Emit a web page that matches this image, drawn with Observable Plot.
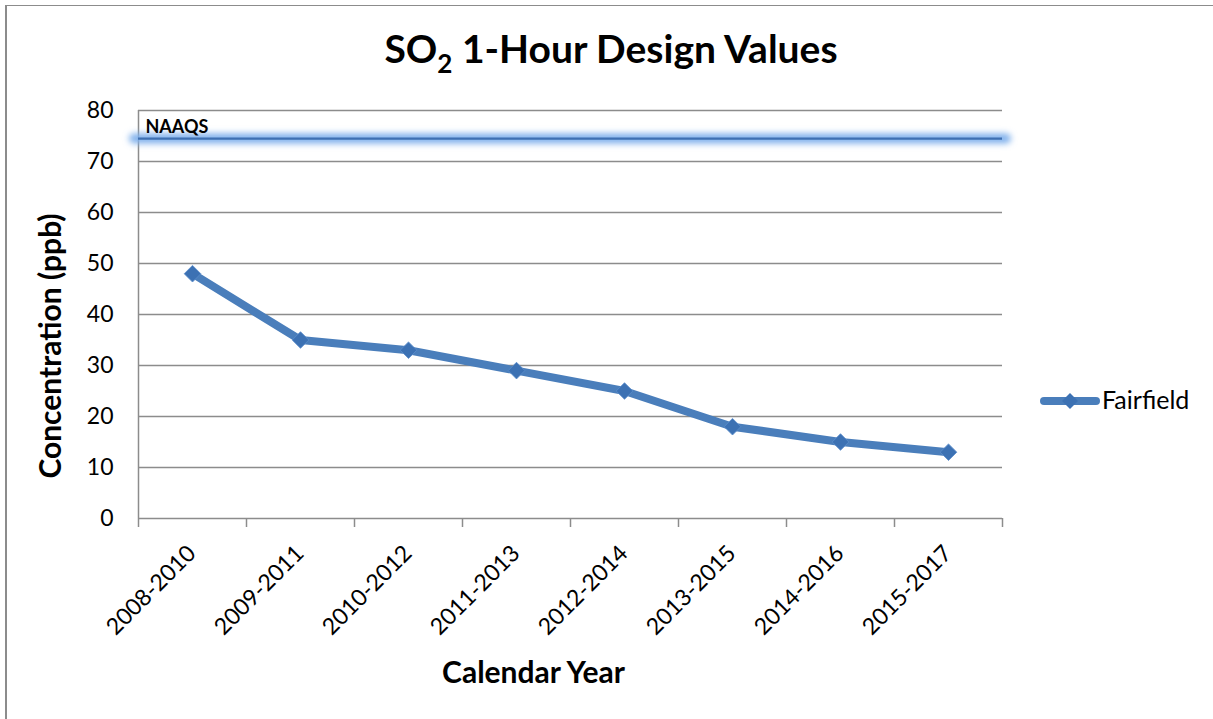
<!DOCTYPE html>
<html><head><meta charset="utf-8">
<script src="https://cdn.jsdelivr.net/npm/d3@7"></script>
<script src="https://cdn.jsdelivr.net/npm/@observablehq/plot@0.6"></script>
<style>
body{margin:0;background:#fff;font-family:Lato,"Open Sans",sans-serif;}
#wrap{position:relative;width:1213px;height:719px;overflow:hidden;background:#fff;}
#frame{position:absolute;left:5px;top:5px;width:1300px;height:800px;border-left:2px solid #8c8c8c;border-top:1px solid #8c8c8c;}
#title{position:absolute;left:0;width:1222px;top:25px;text-align:center;font-weight:bold;font-size:39px;color:#000;line-height:1.2;white-space:nowrap;}
#title sub{font-size:26px;line-height:0;vertical-align:-10px;}
#chart{position:absolute;left:0;top:0;}
#ytitle{position:absolute;left:49px;top:346px;transform:translate(-50%,-50%) rotate(-90deg);font-weight:bold;font-size:30px;line-height:1.2;white-space:nowrap;color:#000;}
#legend{position:absolute;left:1030px;top:380px;}
</style></head>
<body>
<div id="wrap">
  <div id="frame"></div>
  <div id="chart"></div>
  <div id="title">SO<sub>2</sub> 1-Hour Design Values</div>
  <div id="ytitle"></div>
  <div id="legend"></div>
</div>
<script>
const periods = ["2008-2010","2009-2011","2010-2012","2011-2013","2012-2014","2013-2015","2014-2016","2015-2017"];
const fairfield = [48, 35, 33, 29, 25, 18, 15, 13];
const yTicks = [0, 10, 20, 30, 40, 50, 60, 70, 80];
const naaqsValue = 74.5;
const naaqsLabel = "NAAQS";
const seriesName = "Fairfield";
const xTitle = "Calendar Year";
const yTitle = "Concentration (ppb)";

const lineColor = "#4a7ebb";
const markColor = "#3c71b3";
const gridColor = "#8c8c8c";

const data = periods.map((p, i) => ({period: p, idx: i + 0.5, value: fairfield[i]}));
const boundaries = d3.range(periods.length + 1);

const chart = Plot.plot({
  width: 1213, height: 719,
  marginLeft: 138, marginRight: 211, marginTop: 110, marginBottom: 201,
  style: {fontFamily: "Lato, 'Open Sans', sans-serif", background: "transparent", color: "#000"},
  x: {type: "linear", domain: [0, periods.length], axis: null},
  y: {domain: [0, 80], axis: null},
  marks: [
    Plot.ruleY(yTicks, {stroke: gridColor, strokeWidth: 1.5}),
    Plot.ruleX([0], {stroke: gridColor, strokeWidth: 1.5}),
    Plot.axisX({ticks: boundaries, tickSize: 9, tickFormat: () => "", stroke: gridColor, strokeWidth: 1.5, label: null}),
    Plot.axisY({ticks: yTicks, tickSize: 0, tickPadding: 25, fontSize: 23, label: null, tickFormat: d => String(d)}),
    // NAAQS line: blurred glow + core
    Plot.ruleY([naaqsValue], {stroke: "#7fb0ec", strokeWidth: 10, insetLeft: -4, insetRight: -4, strokeLinecap: "round"}),
    Plot.ruleY([naaqsValue], {stroke: "#3f70b2", strokeWidth: 2.2}),
    Plot.text([naaqsLabel], {x: 0, y: naaqsValue, text: d => d, dx: 7, dy: -11, textAnchor: "start", fontWeight: "bold", fontSize: 18, fill: "#000"}),
    Plot.line(data, {x: "idx", y: "value", stroke: lineColor, strokeWidth: 8, strokeLinejoin: "round"}),
    Plot.dot(data, {x: "idx", y: "value", symbol: "diamond2", r: 7.5, fill: markColor, stroke: "#5a8dcc", strokeWidth: 0.8}),
    Plot.text(data, {x: "idx", y: 0, text: "period", rotate: -45, textAnchor: "end", dx: -0.5, dy: 31, fontSize: 23, fill: "#000"}),
    Plot.text([xTitle], {frameAnchor: "bottom", text: d => d, dx: -37, dy: 164, fontSize: 30, fontWeight: "bold", fill: "#000"})
  ]
});

// soft blur for the NAAQS glow rule
const ns = "http://www.w3.org/2000/svg";
const defs = document.createElementNS(ns, "defs");
defs.innerHTML = '<filter id="naaqsGlow" filterUnits="userSpaceOnUse" x="0" y="0" width="1213" height="719"><feGaussianBlur stdDeviation="3"/></filter>';
chart.insertBefore(defs, chart.firstChild);
const rules = chart.querySelectorAll('g[aria-label="rule"]');
if (rules.length >= 3) rules[2].setAttribute("filter", "url(#naaqsGlow)");
document.getElementById("chart").appendChild(chart);

document.getElementById("ytitle").textContent = yTitle;

// legend
const ls = document.createElementNS(ns, "svg");
ls.setAttribute("width", 183); ls.setAttribute("height", 40);
const ln = document.createElementNS(ns, "line");
ln.setAttribute("x1", 14); ln.setAttribute("x2", 66); ln.setAttribute("y1", 21); ln.setAttribute("y2", 21);
ln.setAttribute("stroke", lineColor); ln.setAttribute("stroke-width", 8); ln.setAttribute("stroke-linecap", "round");
ls.appendChild(ln);
const dm = document.createElementNS(ns, "path");
dm.setAttribute("d", "M40,13L48,21L40,29L32,21Z");
dm.setAttribute("fill", markColor);
ls.appendChild(dm);
const lt = document.createElementNS(ns, "text");
lt.setAttribute("x", 72); lt.setAttribute("y", 29);
lt.setAttribute("font-family", "Lato, 'Open Sans', sans-serif");
lt.setAttribute("font-size", 25);
lt.setAttribute("fill", "#000");
lt.textContent = seriesName;
ls.appendChild(lt);
document.getElementById("legend").appendChild(ls);
</script>
</body></html>
